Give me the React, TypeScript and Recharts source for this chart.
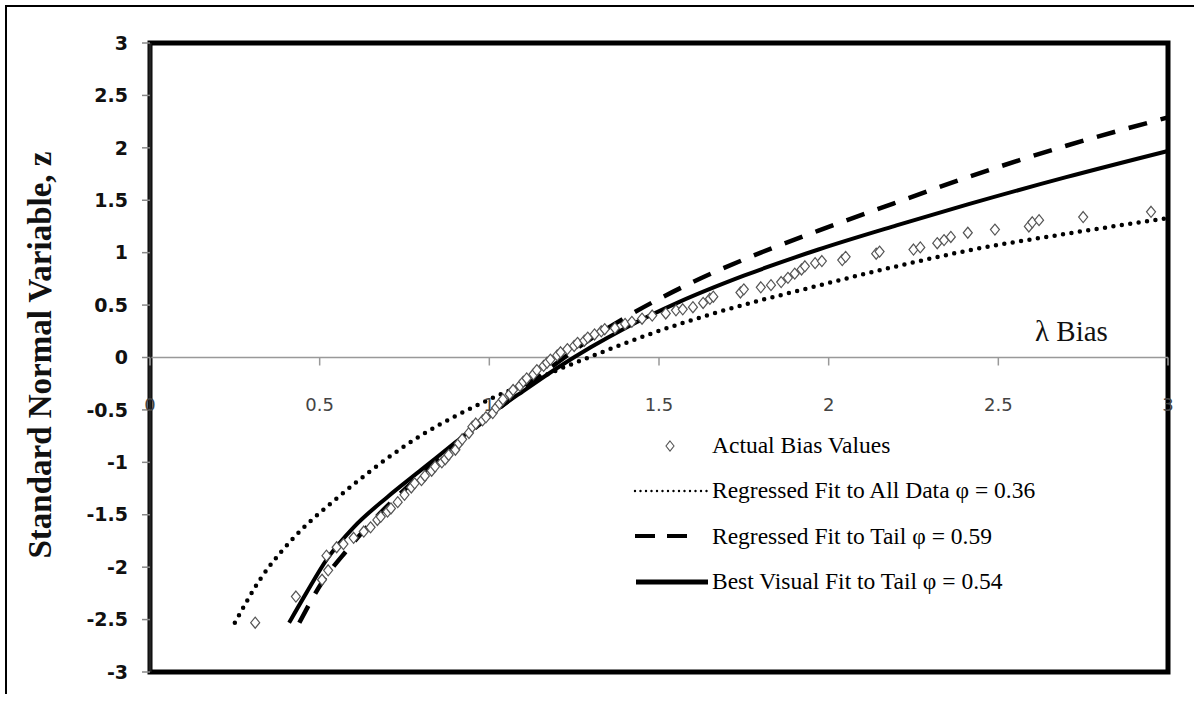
import {
  ComposedChart,
  Line,
  Scatter,
  XAxis,
  YAxis,
  ReferenceLine,
  ReferenceDot,
  ReferenceArea,
} from 'recharts';

// lambda bias vs standard normal variable z
const actualBias = [
  { x: 0.31, z: -2.53 }, { x: 0.43, z: -2.28 }, { x: 0.507, z: -2.12 }, { x: 0.525, z: -2.03 },
  { x: 0.52, z: -1.89 }, { x: 0.55, z: -1.81 }, { x: 0.57, z: -1.78 }, { x: 0.6, z: -1.72 },
  { x: 0.63, z: -1.66 }, { x: 0.65, z: -1.62 }, { x: 0.67, z: -1.55 }, { x: 0.68, z: -1.52 },
  { x: 0.7, z: -1.47 }, { x: 0.71, z: -1.44 }, { x: 0.73, z: -1.38 }, { x: 0.75, z: -1.31 },
  { x: 0.77, z: -1.24 }, { x: 0.78, z: -1.2 }, { x: 0.8, z: -1.17 }, { x: 0.81, z: -1.13 },
  { x: 0.83, z: -1.08 }, { x: 0.84, z: -1.04 }, { x: 0.86, z: -1.0 }, { x: 0.87, z: -0.97 },
  { x: 0.88, z: -0.93 }, { x: 0.9, z: -0.88 }, { x: 0.91, z: -0.82 }, { x: 0.92, z: -0.78 },
  { x: 0.94, z: -0.72 }, { x: 0.95, z: -0.66 }, { x: 0.96, z: -0.63 }, { x: 0.98, z: -0.6 },
  { x: 0.99, z: -0.57 }, { x: 1.01, z: -0.53 }, { x: 1.02, z: -0.48 }, { x: 1.03, z: -0.44 },
  { x: 1.04, z: -0.4 }, { x: 1.06, z: -0.35 }, { x: 1.07, z: -0.31 }, { x: 1.09, z: -0.27 },
  { x: 1.1, z: -0.23 }, { x: 1.11, z: -0.2 }, { x: 1.13, z: -0.16 }, { x: 1.14, z: -0.12 },
  { x: 1.16, z: -0.08 }, { x: 1.17, z: -0.05 }, { x: 1.18, z: -0.02 }, { x: 1.2, z: 0.02 },
  { x: 1.21, z: 0.05 }, { x: 1.23, z: 0.08 }, { x: 1.25, z: 0.11 }, { x: 1.26, z: 0.14 },
  { x: 1.28, z: 0.16 }, { x: 1.29, z: 0.19 }, { x: 1.31, z: 0.22 }, { x: 1.33, z: 0.25 },
  { x: 1.34, z: 0.27 }, { x: 1.37, z: 0.28 }, { x: 1.4, z: 0.32 }, { x: 1.42, z: 0.34 },
  { x: 1.45, z: 0.37 }, { x: 1.48, z: 0.4 }, { x: 1.52, z: 0.42 }, { x: 1.55, z: 0.45 },
  { x: 1.57, z: 0.46 }, { x: 1.6, z: 0.48 }, { x: 1.63, z: 0.52 }, { x: 1.65, z: 0.56 },
  { x: 1.66, z: 0.58 }, { x: 1.74, z: 0.62 }, { x: 1.75, z: 0.65 }, { x: 1.8, z: 0.67 },
  { x: 1.83, z: 0.69 }, { x: 1.86, z: 0.72 }, { x: 1.88, z: 0.76 }, { x: 1.9, z: 0.8 },
  { x: 1.92, z: 0.84 }, { x: 1.93, z: 0.87 }, { x: 1.96, z: 0.9 }, { x: 1.98, z: 0.92 },
  { x: 2.04, z: 0.93 }, { x: 2.05, z: 0.96 }, { x: 2.14, z: 0.99 }, { x: 2.15, z: 1.01 },
  { x: 2.25, z: 1.03 }, { x: 2.27, z: 1.05 }, { x: 2.32, z: 1.09 }, { x: 2.34, z: 1.12 },
  { x: 2.36, z: 1.15 }, { x: 2.41, z: 1.19 }, { x: 2.49, z: 1.22 }, { x: 2.59, z: 1.25 },
  { x: 2.6, z: 1.29 }, { x: 2.62, z: 1.31 }, { x: 2.75, z: 1.34 }, { x: 2.95, z: 1.39 },
];

// regressed fit to all data, phi = 0.36
const fitAll = [
  { x: 0.25, z: -2.53 }, { x: 0.33, z: -2.09 }, { x: 0.39, z: -1.84 }, { x: 0.46, z: -1.6 },
  { x: 0.53, z: -1.4 }, { x: 0.6, z: -1.21 }, { x: 0.7, z: -0.96 }, { x: 0.8, z: -0.74 },
  { x: 0.9, z: -0.56 }, { x: 1.0, z: -0.4 }, { x: 1.1, z: -0.26 }, { x: 1.2, z: -0.12 },
  { x: 1.3, z: 0.01 }, { x: 1.47, z: 0.22 }, { x: 1.66, z: 0.42 }, { x: 1.95, z: 0.67 },
  { x: 2.2, z: 0.87 }, { x: 2.41, z: 1.02 }, { x: 2.7, z: 1.18 }, { x: 3.0, z: 1.33 },
];

// regressed fit to tail, phi = 0.59
const fitTail = [
  { x: 0.44, z: -2.53 }, { x: 0.51, z: -2.13 }, { x: 0.58, z: -1.84 }, { x: 0.65, z: -1.58 },
  { x: 0.75, z: -1.26 }, { x: 0.85, z: -0.97 }, { x: 1.0, z: -0.56 }, { x: 1.1, z: -0.3 },
  { x: 1.2, z: -0.05 }, { x: 1.3, z: 0.18 }, { x: 1.4, z: 0.38 }, { x: 1.6, z: 0.72 },
  { x: 1.8, z: 1.0 }, { x: 1.97, z: 1.21 }, { x: 2.2, z: 1.48 }, { x: 2.41, z: 1.72 },
  { x: 2.7, z: 2.02 }, { x: 3.0, z: 2.29 },
];

// best visual fit to tail, phi = 0.54
const fitVisual = [
  { x: 0.41, z: -2.53 }, { x: 0.46, z: -2.25 }, { x: 0.52, z: -1.93 }, { x: 0.6, z: -1.62 },
  { x: 0.7, z: -1.33 }, { x: 0.8, z: -1.07 }, { x: 0.9, z: -0.81 }, { x: 1.0, z: -0.55 },
  { x: 1.1, z: -0.32 }, { x: 1.2, z: -0.1 }, { x: 1.3, z: 0.1 }, { x: 1.4, z: 0.28 },
  { x: 1.56, z: 0.53 }, { x: 1.75, z: 0.78 }, { x: 1.97, z: 1.03 }, { x: 2.2, z: 1.26 },
  { x: 2.41, z: 1.46 }, { x: 2.7, z: 1.72 }, { x: 3.0, z: 1.97 },
];

const xTicks = [0, 0.5, 1, 1.5, 2, 2.5, 3];
const yTicks = [-3, -2.5, -2, -1.5, -1, -0.5, 0, 0.5, 1, 1.5, 2, 2.5, 3];

const legendLabels = [
  'Actual Bias Values',
  'Regressed Fit to All Data \u03c6 = 0.36',
  'Regressed Fit to Tail \u03c6 = 0.59',
  'Best Visual Fit to Tail \u03c6 = 0.54',
];

const serif = '"Liberation Serif", "Times New Roman", serif';
const sans = '"DejaVu Sans", "Liberation Sans", sans-serif';

const Diamond = (props: any) => {
  const { cx, cy } = props;
  if (cx == null || cy == null) return null;
  return (
    <polygon
      points={`${cx},${cy - 5.5} ${cx + 4.5},${cy} ${cx},${cy + 5.5} ${cx - 4.5},${cy}`}
      fill="#fff"
      stroke="#555"
      strokeWidth={1.2}
    />
  );
};

// tick mark + label hanging under the z = 0 line
const xTickAt = (v: number) => (props: any) => (
  <g>
    <line x1={props.cx} y1={props.cy} x2={props.cx} y2={props.cy + 8} stroke="#999" strokeWidth={1.5} />
    <text
      x={props.cx}
      y={props.cy + 53}
      textAnchor="middle"
      fontFamily={sans}
      fontSize={18}
      fill="#444"
    >
      {v}
    </text>
  </g>
);

const legendIcon = (i: number) => {
  if (i === 0)
    return <polygon points="40,5 44,10 40,15 36,10" fill="#fff" stroke="#555" strokeWidth={1.1} />;
  if (i === 1)
    return (
      <line x1={5} y1={10} x2={77} y2={10} stroke="#000" strokeWidth={2.4} strokeDasharray="0 5.5" strokeLinecap="round" />
    );
  if (i === 2)
    return <line x1={5} y1={10} x2={57} y2={10} stroke="#000" strokeWidth={4} strokeDasharray="20 12" />;
  return <line x1={6} y1={10} x2={78} y2={10} stroke="#000" strokeWidth={5} />;
};

function ChartLegend() {
  return (
    <div style={{ position: 'absolute', left: 630, top: 423 }}>
      {legendLabels.map((label, i) => (
        <div key={label} style={{ display: 'flex', alignItems: 'center', height: 45.3 }}>
          <svg width={80} height={20}>{legendIcon(i)}</svg>
          <span style={{ fontFamily: serif, fontSize: 23.5, color: '#000', marginLeft: 2, whiteSpace: 'nowrap' }}>
            {label}
          </span>
        </div>
      ))}
    </div>
  );
}

export default function App() {
  return (
    <div style={{ position: 'absolute', left: 0, top: 0, width: 1194, height: 709, background: '#fff' }}>
      <div
        style={{
          position: 'absolute',
          left: 5,
          top: 5,
          width: 1200,
          height: 687,
          borderLeft: '2px solid #000',
          borderTop: '2px solid #000',
        }}
      />
      <ComposedChart width={1194} height={709} margin={{ top: 43, right: 26, bottom: 37, left: 90 }}>
        <XAxis type="number" dataKey="x" domain={[0, 3]} ticks={xTicks} hide />
        <YAxis
          type="number"
          dataKey="z"
          domain={[-3, 3]}
          ticks={yTicks}
          width={60}
          interval={0}
          axisLine={{ stroke: '#222', strokeWidth: 3 }}
          tickLine={{ stroke: '#888', strokeWidth: 1.5 }}
          tickSize={8}
          tickMargin={14}
          tick={{ fontFamily: sans, fontSize: 19, fontWeight: 700, fill: '#111' }}
        />
        <ReferenceArea x1={0} x2={3} y1={-3} y2={3} fill="none" stroke="#000" strokeWidth={5} />
        <ReferenceLine y={0} stroke="#999" strokeWidth={1.5} />
        {xTicks.map((v) => (
          <ReferenceDot key={v} x={v} y={0} r={0} shape={xTickAt(v)} />
        ))}
        <Scatter data={actualBias} dataKey="z" shape={Diamond} isAnimationActive={false} />
        <Line
          data={fitAll}
          dataKey="z"
          type="monotone"
          stroke="#000"
          strokeWidth={4.5}
          strokeDasharray="0 8.5"
          strokeLinecap="round"
          dot={false}
          activeDot={false}
          isAnimationActive={false}
        />
        <Line
          data={fitTail}
          dataKey="z"
          type="monotone"
          stroke="#000"
          strokeWidth={4.5}
          strokeDasharray="19 14"
          dot={false}
          activeDot={false}
          isAnimationActive={false}
        />
        <Line
          data={fitVisual}
          dataKey="z"
          type="monotone"
          stroke="#000"
          strokeWidth={4}
          dot={false}
          activeDot={false}
          isAnimationActive={false}
        />
      </ComposedChart>
      <ChartLegend />
      <div
        style={{
          position: 'absolute',
          left: 40 - 250,
          top: 355 - 18,
          width: 500,
          height: 36,
          lineHeight: '36px',
          textAlign: 'center',
          transform: 'rotate(-90deg)',
          fontFamily: serif,
          fontSize: 33,
          fontWeight: 700,
          color: '#111',
        }}
      >
        Standard Normal Variable, z
      </div>
      <div
        style={{
          position: 'absolute',
          left: 1035,
          top: 317,
          lineHeight: 1,
          fontFamily: serif,
          fontSize: 29,
          color: '#111',
          whiteSpace: 'nowrap',
        }}
      >
        {'\u03bb Bias'}
      </div>
    </div>
  );
}
